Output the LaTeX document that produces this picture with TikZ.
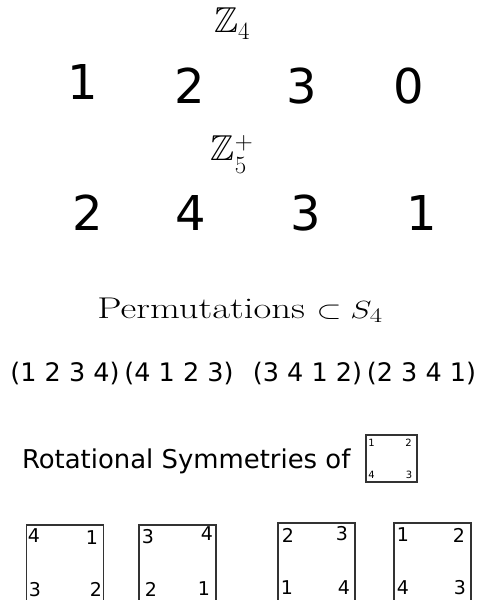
\documentclass[tikz,border=0pt]{standalone}
\usepackage{amssymb}
\usepackage{graphicx}
\usepackage{fontspec}
\newfontfamily\dv{DejaVu Sans}
\begin{document}
\begin{tikzpicture}[x=1pt,y=-1pt,
  every node/.style={inner sep=0pt,outer sep=0pt},
  bigdig/.style={font=\dv\fontsize{48}{50}\selectfont},
  perm/.style={font=\dv\fontsize{25.5}{27}\selectfont,anchor=base},
  mathlbl/.style={anchor=base},
  boxdig/.style={font=\dv\fontsize{19}{21}\selectfont},
  smalldig/.style={font=\dv\fontsize{10}{12}\selectfont},
  sqbox/.style={draw=black!80,line width=1.1pt}]
\useasboundingbox (0,0) rectangle (478,600);
% Z4 row
\node[mathlbl,font=\fontsize{36}{40}\selectfont] (z4) at (232,32) {$\mathbb{Z}_4$};
\node[bigdig] (a1) at (83,82) {1};
\node[bigdig] (a2) at (190,86) {2};
\node[bigdig] (a3) at (302,86) {3};
\node[bigdig] (a4) at (409,86) {0};
% Z5+ row
\node[mathlbl,font=\fontsize{36}{40}\selectfont] (z5) at (232,160) {$\mathbb{Z}_5^+$};
\node[bigdig] (b1) at (88,213) {2};
\node[bigdig] (b2) at (191,213) {4};
\node[bigdig] (b3) at (306,213) {3};
\node[bigdig] (b4) at (422,213) {1};
% Permutations
\node[mathlbl,font=\fontsize{30}{34}\selectfont] (perm) at (240,318) {\scalebox{1.29}[1]{Permutations $\subset S_4$}};
\node[perm] (p1) at (65,381) {(1 2 3 4)};
\node[perm] (p2) at (179,381) {(4 1 2 3)};
\node[perm] (p3) at (307.5,381) {(3 4 1 2)};
\node[perm] (p4) at (421.5,381) {(2 3 4 1)};
% Rotational symmetries
\node[font=\dv\fontsize{25.9}{27}\selectfont,anchor=base west] (rot) at (22,468) {Rotational Symmetries of};
\node[sqbox,minimum width=51pt,minimum height=47pt] (sq) at (391.5,458.5) {};
\node[smalldig] (s1) at (371.5,443) {1};
\node[smalldig] (s2) at (408.5,443) {2};
\node[smalldig] (s4) at (371.5,475) {4};
\node[smalldig] (s3) at (409,475) {3};
% bottom boxes
\node[sqbox,minimum width=77pt,minimum height=76pt] (q1) at (65,563) {};
\node[sqbox,minimum width=77pt,minimum height=76pt] (q2) at (177.5,563) {};
\node[sqbox,minimum width=77pt,minimum height=78pt] (q3) at (316.5,562) {};
\node[sqbox,minimum width=77pt,minimum height=78pt] (q4) at (432.5,562) {};
\node[boxdig] (q1a) at (34,536) {4};
\node[boxdig] (q1b) at (92,538) {1};
\node[boxdig] (q1c) at (35,590) {3};
\node[boxdig] (q1d) at (96,589) {2};
\node[boxdig] (q2a) at (148,537) {3};
\node[boxdig] (q2b) at (207,534) {4};
\node[boxdig] (q2c) at (151,589) {2};
\node[boxdig] (q2d) at (204,589) {1};
\node[boxdig] (q3a) at (288,535) {2};
\node[boxdig] (q3b) at (342,534) {3};
\node[boxdig] (q3c) at (287,588) {1};
\node[boxdig] (q3d) at (344,588) {4};
\node[boxdig] (q4a) at (403,535) {1};
\node[boxdig] (q4b) at (459,535) {2};
\node[boxdig] (q4c) at (403,588) {4};
\node[boxdig] (q4d) at (460,588) {3};
\end{tikzpicture}
\end{document}
